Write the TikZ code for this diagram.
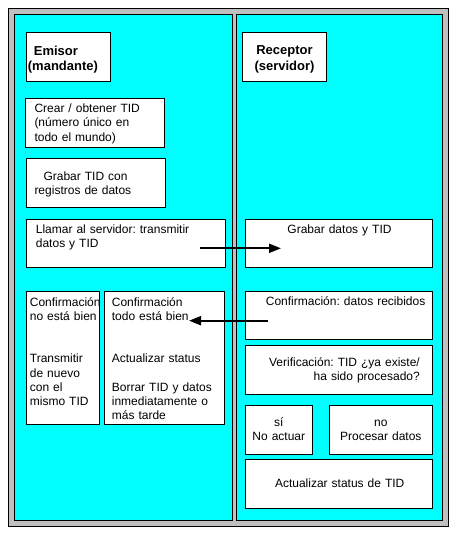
\documentclass[tikz,border=0pt]{standalone}
\usepackage{fontspec}
\setmainfont{Liberation Sans}
\usetikzlibrary{arrows.meta}
\definecolor{aqua}{RGB}{0,255,255}
\definecolor{frame}{RGB}{192,192,192}
\frenchspacing
\begin{document}
\begin{tikzpicture}[x=1pt,y=-1pt,
  box/.style={draw=black,line width=1pt,fill=white,inner sep=0pt,anchor=north west},
  panel/.style={draw=black,line width=1pt,fill=aqua,inner sep=0pt,anchor=north west},
  txt/.style={inner sep=0pt,font=\fontsize{12}{14.2}\selectfont,text width=#1},
  bold/.style={font=\fontsize{13}{15.7}\selectfont\bfseries},
  flow/.style={line width=2pt,-{Triangle[length=12pt,width=9pt]}}]
\useasboundingbox[fill=white] (0,0) rectangle (458,538);
% frame and panels
\node[box,fill=frame,minimum width=440pt,minimum height=518pt] (outer) at (8,8) {};
\node[panel,minimum width=217.7pt,minimum height=506pt] (lpanel) at (14,14) {};
\node[panel,minimum width=205.4pt,minimum height=506pt] (rpanel) at (236.3,14) {};
% left boxes
\node[box,minimum width=84pt,minimum height=48.7pt] (emisor) at (26.3,32.3) {};
\node[box,minimum width=139pt,minimum height=48.7pt] (crear) at (25.3,98.3) {};
\node[box,minimum width=139pt,minimum height=48.7pt] (grabar) at (26.3,158.3) {};
\node[box,minimum width=199pt,minimum height=47.7pt] (llamar) at (26.3,219.3) {};
\node[box,minimum width=73pt,minimum height=133pt] (confno) at (26.3,291.3) {};
\node[box,minimum width=120.6pt,minimum height=133pt] (confok) at (103.7,291.3) {};
% right boxes
\node[box,minimum width=84pt,minimum height=48.7pt] (receptor) at (242.3,32.3) {};
\node[box,minimum width=187pt,minimum height=47.7pt] (grabard) at (245.3,219.3) {};
\node[box,minimum width=187pt,minimum height=48pt] (confrec) at (245.3,291.3) {};
\node[box,minimum width=187pt,minimum height=49pt] (verif) at (245.3,345.3) {};
\node[box,minimum width=67pt,minimum height=48.7pt] (si) at (245.3,405.3) {};
\node[box,minimum width=103pt,minimum height=48.7pt] (no) at (329.3,405.3) {};
\node[box,minimum width=187pt,minimum height=49pt] (act) at (245.3,459.3) {};
% texts
\node[txt=90pt,bold,align=left,anchor=base west] (t-emisor) at (27.7,55) {\hspace*{6pt}Emisor\\(mandante)};
\node[txt=90pt,bold,align=center,anchor=base] (t-receptor) at (284.5,54.3) {Receptor\\(servidor)};
\node[txt=130pt,align=left,anchor=base west] (t-crear) at (34.3,112.7) {Crear / obtener TID\\(número único en\\todo el mundo)};
\node[txt=130pt,align=left,anchor=base west] (t-grabar) at (34.3,180.3) {\hspace*{9pt}Grabar TID con\\registros de datos};
\node[txt=185pt,align=left,anchor=base west] (t-llamar) at (35.7,233.3) {Llamar al servidor: transmitir\\datos y TID};
\node[txt=75pt,align=left,anchor=base west] (t-confno) at (29.7,306) {Confirmación\\no está bien\\[28.4pt]Transmitir\\de nuevo\\con el\\mismo TID};
\node[txt=115pt,align=left,anchor=base west] (t-confok) at (111.7,306) {Confirmación\\todo está bien\\[28.4pt]Actualizar status\\[14.2pt]Borrar TID y datos\\inmediatamente o\\más tarde};
\node[txt=180pt,align=center,anchor=base] (t-grabard) at (339.5,233.3) {Grabar datos y TID};
\node[txt=180pt,align=left,anchor=base west] (t-confrec) at (265.7,305.3) {Confirmación: datos recibidos};
\node[txt=170pt,align=right,anchor=base east] (t-verif) at (420,366.7) {Verificación: TID ¿ya existe/\\ha sido procesado?};
\node[txt=65pt,align=center,anchor=base] (t-si) at (278.8,426.7) {sí\\No actuar};
\node[txt=100pt,align=center,anchor=base] (t-no) at (380.8,426.7) {no\\Procesar datos};
\node[txt=180pt,align=center,anchor=base] (t-act) at (339.7,487.7) {Actualizar status de TID};
% connectors
\coordinate (a1s) at (200,248.3);
\coordinate (a1e) at (281,248.3);
\coordinate (a2s) at (267.7,320.7);
\coordinate (a2e) at (189,320.7);
\draw[flow] (a1s) -- (a1e);
\draw[flow] (a2s) -- (a2e);
\end{tikzpicture}
\end{document}
